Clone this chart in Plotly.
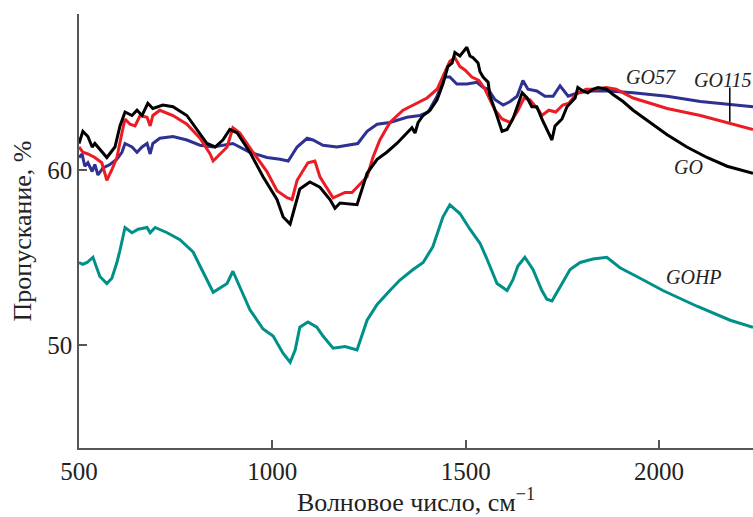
import plotly.graph_objects as go

# GO (black)
go_x = [500, 510, 523, 534, 541, 572, 593, 606, 619, 637, 650, 663, 678, 691, 717, 743, 779, 805, 831, 852,
        872, 890, 909, 942, 976, 1012, 1028, 1046, 1059, 1071, 1097, 1123, 1149, 1162, 1175, 1219, 1232, 1245,
        1271, 1296, 1322, 1348, 1361, 1369, 1377, 1390, 1408, 1426, 1441, 1454, 1465, 1472, 1485, 1503, 1511,
        1519, 1532, 1537, 1545, 1558, 1563, 1576, 1594, 1607, 1622, 1646, 1659, 1671, 1684, 1697, 1710, 1723,
        1731, 1749, 1762, 1783, 1790, 1803, 1816, 1829, 1842, 1865, 1881, 1907, 1933, 1977, 2021, 2072, 2124,
        2176, 2227, 2243]
go_y = [61.5, 62.2, 61.9, 61.3, 61.5, 60.7, 61.3, 62.5, 63.3, 63.1, 63.4, 63.1, 63.8, 63.5, 63.7, 63.6, 63.1, 62.3,
        61.5, 61.3, 61.7, 62.3, 62.1, 61.0, 59.6, 58.3, 57.3, 56.9, 57.9, 58.9, 59.3, 59.0, 58.3, 57.8, 58.1,
        58.0, 58.9, 59.8, 60.6, 61.0, 61.5, 62.1, 62.4, 62.1, 62.7, 63.1, 63.4, 64.0, 64.9, 65.9, 66.1, 66.7,
        66.5, 67.0, 66.5, 66.4, 66.1, 65.6, 65.3, 65.0, 64.2, 63.4, 62.2, 62.3, 62.9, 64.4, 64.1, 63.6, 63.6,
        62.9, 62.3, 61.7, 62.5, 62.9, 63.6, 64.1, 64.7, 64.5, 64.4, 64.6, 64.7, 64.6, 64.3, 63.9, 63.4, 62.7,
        62.0, 61.3, 60.7, 60.2, 59.9, 59.8]

# GO115 (red)
go115_x = [500, 510, 523, 541, 559, 572, 585, 598, 611, 619, 632, 645, 658, 676, 684, 691, 709, 743, 779, 813,
           839, 847, 865, 883, 898, 916, 950, 986, 1012, 1038, 1051, 1064, 1092, 1110, 1123, 1157, 1188, 1206,
           1245, 1260, 1278, 1304, 1338, 1374, 1400, 1426, 1441, 1459, 1472, 1485, 1498, 1516, 1534, 1550, 1563,
           1576, 1594, 1615, 1633, 1651, 1666, 1689, 1697, 1715, 1733, 1751, 1767, 1785, 1811, 1837, 1863, 1889,
           1933, 2021, 2107, 2192, 2243]
go115_y = [61.3, 61.0, 60.9, 60.7, 60.4, 59.4, 60.0, 60.7, 62.1, 62.9, 62.6, 62.5, 63.1, 63.0, 62.5, 63.1, 63.4,
           63.1, 62.6, 61.8, 60.9, 60.5, 60.9, 61.3, 62.4, 62.1, 61.0, 59.9, 58.8, 58.4, 58.3, 59.4, 60.4, 60.5,
           59.6, 58.4, 58.7, 58.7, 59.6, 60.7, 61.7, 62.7, 63.4, 63.8, 64.1, 64.6, 65.3, 66.2, 66.4, 65.9, 65.7,
           65.3, 65.1, 64.6, 64.0, 63.4, 62.9, 62.7, 63.3, 64.1, 64.0, 63.4, 63.1, 63.4, 63.3, 63.7, 63.8, 64.3,
           64.6, 64.6, 64.7, 64.6, 64.1, 63.5, 63.1, 62.6, 62.3]

# GO57 (blue)
go57_x = [500, 508, 515, 523, 534, 541, 549, 562, 580, 598, 611, 619, 637, 650, 663, 676, 684, 691, 709, 743,
          779, 813, 847, 898, 942, 986, 1020, 1041, 1064, 1090, 1105, 1131, 1167, 1221, 1245, 1271, 1304, 1348,
          1382, 1403, 1426, 1446, 1459, 1477, 1503, 1529, 1545, 1558, 1576, 1597, 1615, 1633, 1648, 1661, 1684,
          1705, 1726, 1744, 1765, 1790, 1824, 1869, 1933, 2021, 2107, 2192, 2243]
go57_y = [60.7, 60.9, 60.2, 60.4, 59.9, 60.3, 59.7, 60.1, 60.3, 60.6, 61.0, 61.5, 61.3, 61.0, 61.3, 61.5, 60.9,
          61.5, 61.8, 61.9, 61.7, 61.4, 61.3, 61.5, 61.0, 60.7, 60.6, 60.5, 61.3, 61.8, 61.7, 61.4, 61.3, 61.5,
          62.2, 62.6, 62.7, 63.0, 63.1, 63.3, 64.2, 65.3, 65.3, 64.9, 64.9, 65.0, 64.7, 64.6, 64.0, 63.7, 63.9,
          64.2, 65.1, 64.6, 64.5, 64.2, 64.2, 64.8, 64.2, 64.4, 64.5, 64.5, 64.4, 64.2, 63.9, 63.7, 63.6]

# GOHP (teal)
gohp_x = [500, 510, 521, 536, 554, 572, 585, 598, 606, 619, 637, 653, 676, 684, 697, 728, 761, 795, 813, 847,
          883, 898, 916, 942, 976, 1002, 1028, 1046, 1059, 1071, 1092, 1115, 1131, 1157, 1188, 1219, 1245, 1271,
          1304, 1330, 1364, 1390, 1415, 1441, 1459, 1485, 1511, 1537, 1555, 1581, 1607, 1622, 1635, 1653, 1674,
          1697, 1710, 1723, 1744, 1770, 1796, 1829, 1865, 1899, 1951, 2010, 2098, 2184, 2243]
gohp_y = [54.7, 54.6, 54.7, 55.0, 53.9, 53.5, 53.8, 54.7, 55.4, 56.7, 56.4, 56.6, 56.7, 56.4, 56.7, 56.4, 56.0,
          55.3, 54.5, 53.0, 53.5, 54.2, 53.3, 52.0, 50.9, 50.5, 49.5, 49.0, 49.7, 51.0, 51.3, 51.0, 50.5, 49.8,
          49.9, 49.7, 51.4, 52.3, 53.1, 53.7, 54.3, 54.7, 55.6, 57.3, 58.0, 57.5, 56.6, 55.8, 54.9, 53.5, 53.1,
          53.7, 54.5, 55.0, 54.3, 53.1, 52.6, 52.5, 53.3, 54.3, 54.7, 54.9, 55.0, 54.4, 53.8, 53.1, 52.2, 51.4,
          51.0]

x_ticks = [500, 1000, 1500, 2000]
y_ticks = [50, 60]

labels = ["GO57", "GO115", "GO", "GOHP"]
label_x = [1979, 2163, 2077, 2090]
label_y = [65.3, 65.15, 60.15, 53.85]

serif = "Liberation Serif"

fig = go.Figure()
fig.add_trace(go.Scatter(x=gohp_x, y=gohp_y, mode="lines", line=dict(color="#00908a", width=3), name="GOHP"))
fig.add_trace(go.Scatter(x=go57_x, y=go57_y, mode="lines", line=dict(color="#2e3192", width=3), name="GO57"))
fig.add_trace(go.Scatter(x=go115_x, y=go115_y, mode="lines", line=dict(color="#ed1c24", width=3), name="GO115"))
fig.add_trace(go.Scatter(x=go_x, y=go_y, mode="lines", line=dict(color="#000000", width=3), name="GO"))

# pointer line from GO115 label to red curve
fig.add_trace(go.Scatter(x=[2183, 2183], y=[64.7, 62.75], mode="lines",
                         line=dict(color="#000000", width=1.5), showlegend=False, hoverinfo="skip"))

for t, lx, ly in zip(labels, label_x, label_y):
    fig.add_annotation(x=lx, y=ly, text="<i>" + t + "</i>", showarrow=False,
                       font=dict(family=serif, size=20, color="#222"), xanchor="center", yanchor="middle")

fig.update_layout(
    width=753, height=517,
    margin=dict(l=79, r=0, t=14, b=69),
    paper_bgcolor="white", plot_bgcolor="white",
    showlegend=False,
    font=dict(family=serif, size=24, color="#222"),
)
fig.update_xaxes(range=[500, 2243], tickvals=x_ticks, ticks="inside", ticklen=8, tickwidth=1.5,
                 tickcolor="#555", showline=True, linecolor="#555", linewidth=1.5, showgrid=False,
                 zeroline=False, tickfont=dict(family=serif, size=25, color="#222"),
                 title=dict(text="Волновое число, см<sup>−1</sup>", font=dict(family=serif, size=26, color="#222"),
                            standoff=10))
fig.update_yaxes(range=[44.1, 68.9], tickvals=y_ticks, ticks="inside", ticklen=8, tickwidth=1.5,
                 tickcolor="#555", showline=True, linecolor="#555", linewidth=1.5, showgrid=False,
                 zeroline=False, tickfont=dict(family=serif, size=25, color="#222"),
                 title=dict(text="Пропускание, %", font=dict(family=serif, size=26, color="#222"), standoff=8))

fig.write_html("out.html",
               config={"displayModeBar": False},
               post_script="document.body.style.margin='0';"
                           "document.body.style.overflow='hidden';"
                           "document.documentElement.style.overflow='hidden';")
